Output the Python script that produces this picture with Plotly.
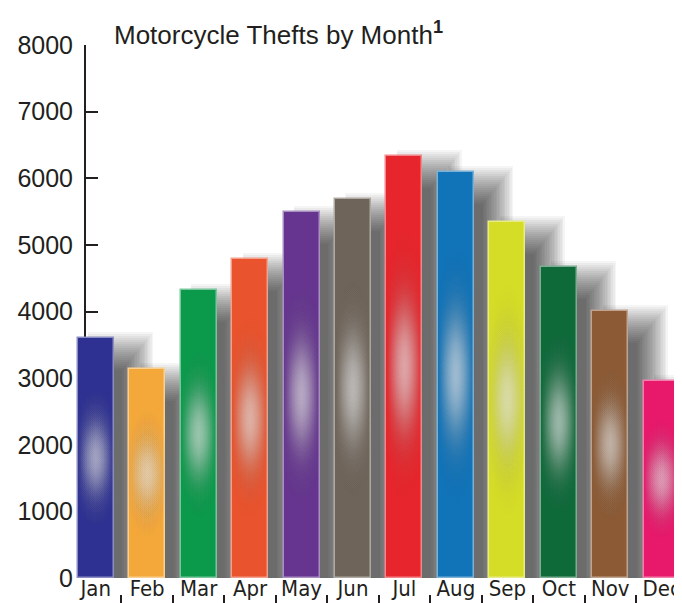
import math
import plotly.graph_objects as go

months = ["Jan", "Feb", "Mar", "Apr", "May", "Jun", "Jul", "Aug", "Sep", "Oct", "Nov", "Dec"]
thefts = [3600, 3130, 4320, 4790, 5500, 5690, 6340, 6100, 5350, 4670, 4010, 2960]
colors = ["#2e3192", "#f5a83a", "#0b9a4b", "#e9532d", "#65358f", "#6f6459",
          "#e6262c", "#1173b8", "#d6dd27", "#0f6a3a", "#8c5a34", "#e8196b"]
yticks = [0, 1000, 2000, 3000, 4000, 5000, 6000, 7000, 8000]

xs = list(range(len(months)))
PX_PER_UNIT = 533 / 8000  # plot height / y range (used for glow density only)


def lighten(hexc, f):
    h = hexc.lstrip("#")
    r, g, b = int(h[0:2], 16), int(h[2:4], 16), int(h[4:6], 16)
    r = int(r + (255 - r) * f)
    g = int(g + (255 - g) * f)
    b = int(b + (255 - b) * f)
    return f"rgb({r},{g},{b})"


fig = go.Figure()

# soft drop shadows (layered to fake a blur)
for k in range(20):
    fig.add_trace(go.Bar(
        x=[x + 0.22 + 0.014 * k for x in xs], y=[v - 480 + 30 * k for v in thefts],
        width=0.60 + 0.035 * k,
        marker=dict(color="rgba(0,0,0,0.038)", line=dict(width=0)),
        hoverinfo="skip", showlegend=False, xaxis="x", yaxis="y"))

# main bars
fig.add_trace(go.Bar(
    x=xs, y=thefts, width=0.70,
    marker=dict(color=colors, line=dict(color=[lighten(c, 0.45) for c in colors], width=1.5)),
    showlegend=False, xaxis="x", yaxis="y"))


def glow_column(f0, f1, n, sigma, strength, size, rgb):
    gx, gy, gc = [], [], []
    step = (f1 - f0) / (n - 1)
    r = size / 2
    for j in range(n):
        f = f0 + step * j
        w = math.exp(-((f - 0.5) / sigma) ** 2)
        for x, v in zip(xs, thefts):
            a = min(1.0, strength * w * step * v * PX_PER_UNIT / r)
            gx.append(x)
            gy.append(v * f)
            gc.append(f"rgba({rgb},{a:.3f})")
    fig.add_trace(go.Scatter(
        x=gx, y=gy, mode="markers",
        marker=dict(size=size, symbol="circle", color=f"rgba({rgb},0)",
                    gradient=dict(type="radial", color=gc), line=dict(width=0)),
        hoverinfo="skip", showlegend=False, xaxis="x", yaxis="y"))


# darker halo, then bright core
glow_column(0.14, 0.86, 45, 0.17, 0.28, 42, "0,0,0")
glow_column(0.24, 0.76, 45, 0.13, 0.85, 38, "255,255,255")

# invisible trace to carry the boundary tick axis
fig.add_trace(go.Scatter(x=[-0.5, 11.4], y=[0, 0], mode="markers",
                         marker=dict(opacity=0), hoverinfo="skip",
                         showlegend=False, xaxis="x2", yaxis="y"))

fig.update_layout(
    width=674, height=595,
    margin=dict(l=62, r=0, t=37, b=0, autoexpand=False),
    paper_bgcolor="white", plot_bgcolor="white",
    barmode="overlay", bargap=0,
    font=dict(family="Liberation Sans, Arial, sans-serif", color="#231f20"),
    title=dict(text="Motorcycle Thefts by Month<sup><b>1</b></sup>",
               x=106 / 674, xanchor="left", xref="container",
               y=1 - 27 / 595, yanchor="middle", yref="container",
               font=dict(size=26, family="Liberation Sans, Arial, sans-serif", color="#231f20")),
    xaxis=dict(range=[-0.5, 11.395], domain=[0, 1], automargin=False,
               tickmode="array", tickvals=xs, ticktext=months,
               ticks="", showline=False, showgrid=False, zeroline=False,
               ticklabelstandoff=-5,
               tickfont=dict(size=22, family="DejaVu Sans Condensed, sans-serif",
                             color="#231f20"),
               anchor="y"),
    xaxis2=dict(range=[-0.5, 11.395], overlaying="x", anchor="free", position=0, automargin=False,
                side="bottom", tickmode="array", tickvals=[x - 0.5 for x in xs],
                ticks="inside", ticklen=8, tickwidth=1.5, tickcolor="#231f20",
                showticklabels=False, showline=False, showgrid=False, zeroline=False),
    yaxis=dict(range=[0, 8000], domain=[25 / 558, 1], automargin=False,
               tickmode="array", tickvals=yticks, ticktext=[str(t) for t in yticks],
               ticks="inside", ticklen=12, tickwidth=2, tickcolor="#231f20",
               showline=True, linecolor="#231f20", linewidth=2,
               showgrid=False, zeroline=False,
               anchor="free", position=15 / 612, layer="below traces",
               ticklabelstandoff=6,
               tickfont=dict(size=25, color="#231f20")),
)

fig.write_html("out.html")
